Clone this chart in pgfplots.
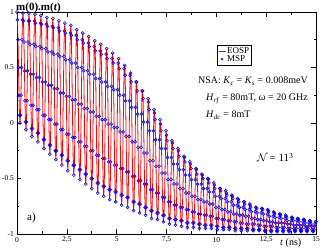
\documentclass[border=0pt]{standalone}
\usepackage{fontspec}
\setmainfont{Liberation Serif}
\usepackage{pgfplots}
\usepackage{pgfplotstable}
\pgfplotsset{compat=1.18}
\pgfplotstableread[row sep=\\]{
t y\\
0 1.00\\ 0.025 0.93\\ 0.05 0.75\\ 0.075 0.50\\ 0.1 0.25\\ 0.125 0.07\\ 0.15 0.00\\ 0.175 0.07\\ 0.2 0.25\\ 0.225 0.50\\ 0.25 0.75\\ 0.275 0.93\\
0.3 0.99\\ 0.325 0.92\\ 0.35 0.73\\ 0.375 0.47\\ 0.4 0.20\\ 0.425 0.01\\ 0.45 -0.06\\ 0.475 0.01\\ 0.5 0.20\\ 0.525 0.47\\ 0.55 0.73\\ 0.575 0.92\\
0.6 0.99\\ 0.625 0.92\\ 0.65 0.71\\ 0.675 0.44\\ 0.7 0.16\\ 0.725 -0.05\\ 0.75 -0.12\\ 0.775 -0.05\\ 0.8 0.16\\ 0.825 0.44\\ 0.85 0.71\\ 0.875 0.92\\
0.9 0.98\\ 0.925 0.90\\ 0.95 0.69\\ 0.975 0.41\\ 1.0 0.12\\ 1.025 -0.09\\ 1.05 -0.17\\ 1.075 -0.09\\ 1.1 0.12\\ 1.125 0.41\\ 1.15 0.69\\ 1.175 0.90\\
1.2 0.97\\ 1.225 0.89\\ 1.25 0.67\\ 1.275 0.37\\ 1.3 0.07\\ 1.325 -0.15\\ 1.35 -0.23\\ 1.375 -0.15\\ 1.4 0.07\\ 1.425 0.37\\ 1.45 0.67\\ 1.475 0.89\\
1.5 0.95\\ 1.525 0.87\\ 1.55 0.64\\ 1.575 0.34\\ 1.6 0.03\\ 1.625 -0.20\\ 1.65 -0.28\\ 1.675 -0.20\\ 1.7 0.03\\ 1.725 0.34\\ 1.75 0.64\\ 1.775 0.87\\
1.8 0.94\\ 1.825 0.86\\ 1.85 0.62\\ 1.875 0.31\\ 1.9 -0.01\\ 1.925 -0.25\\ 1.95 -0.33\\ 1.975 -0.25\\ 2.0 -0.01\\ 2.025 0.31\\ 2.05 0.62\\ 2.075 0.86\\
2.1 0.92\\ 2.125 0.83\\ 2.15 0.60\\ 2.175 0.27\\ 2.2 -0.06\\ 2.225 -0.29\\ 2.25 -0.38\\ 2.275 -0.29\\ 2.3 -0.06\\ 2.325 0.27\\ 2.35 0.60\\ 2.375 0.83\\
2.4 0.90\\ 2.425 0.81\\ 2.45 0.57\\ 2.475 0.24\\ 2.5 -0.10\\ 2.525 -0.34\\ 2.55 -0.43\\ 2.575 -0.34\\ 2.6 -0.10\\ 2.625 0.24\\ 2.65 0.57\\ 2.675 0.81\\
2.7 0.88\\ 2.725 0.79\\ 2.75 0.54\\ 2.775 0.21\\ 2.8 -0.13\\ 2.825 -0.38\\ 2.85 -0.47\\ 2.875 -0.38\\ 2.9 -0.13\\ 2.925 0.21\\ 2.95 0.54\\ 2.975 0.79\\
3.0 0.84\\ 3.025 0.75\\ 3.05 0.50\\ 3.075 0.17\\ 3.1 -0.17\\ 3.125 -0.42\\ 3.15 -0.51\\ 3.175 -0.42\\ 3.2 -0.17\\ 3.225 0.17\\ 3.25 0.50\\ 3.275 0.75\\
3.3 0.81\\ 3.325 0.72\\ 3.35 0.47\\ 3.375 0.13\\ 3.4 -0.21\\ 3.425 -0.46\\ 3.45 -0.55\\ 3.475 -0.46\\ 3.5 -0.21\\ 3.525 0.13\\ 3.55 0.47\\ 3.575 0.72\\
3.6 0.78\\ 3.625 0.69\\ 3.65 0.44\\ 3.675 0.10\\ 3.7 -0.25\\ 3.725 -0.50\\ 3.75 -0.59\\ 3.775 -0.50\\ 3.8 -0.25\\ 3.825 0.10\\ 3.85 0.44\\ 3.875 0.69\\
3.9 0.74\\ 3.925 0.65\\ 3.95 0.40\\ 3.975 0.06\\ 4.0 -0.29\\ 4.025 -0.54\\ 4.05 -0.63\\ 4.075 -0.54\\ 4.1 -0.29\\ 4.125 0.06\\ 4.15 0.40\\ 4.175 0.65\\
4.2 0.71\\ 4.225 0.62\\ 4.25 0.37\\ 4.275 0.03\\ 4.3 -0.32\\ 4.325 -0.57\\ 4.35 -0.66\\ 4.375 -0.57\\ 4.4 -0.32\\ 4.425 0.03\\ 4.45 0.37\\ 4.475 0.62\\
4.5 0.67\\ 4.525 0.58\\ 4.55 0.33\\ 4.575 -0.01\\ 4.6 -0.35\\ 4.625 -0.60\\ 4.65 -0.69\\ 4.675 -0.60\\ 4.7 -0.35\\ 4.725 -0.01\\ 4.75 0.33\\ 4.775 0.58\\
4.8 0.63\\ 4.825 0.54\\ 4.85 0.30\\ 4.875 -0.04\\ 4.9 -0.38\\ 4.925 -0.62\\ 4.95 -0.71\\ 4.975 -0.62\\ 5.0 -0.38\\ 5.025 -0.04\\ 5.05 0.30\\ 5.075 0.54\\
5.1 0.58\\ 5.125 0.49\\ 5.15 0.25\\ 5.175 -0.08\\ 5.2 -0.41\\ 5.225 -0.65\\ 5.25 -0.74\\ 5.275 -0.65\\ 5.3 -0.41\\ 5.325 -0.08\\ 5.35 0.25\\ 5.375 0.49\\
5.4 0.52\\ 5.425 0.43\\ 5.45 0.20\\ 5.475 -0.12\\ 5.5 -0.44\\ 5.525 -0.67\\ 5.55 -0.76\\ 5.575 -0.67\\ 5.6 -0.44\\ 5.625 -0.12\\ 5.65 0.20\\ 5.675 0.43\\
5.7 0.45\\ 5.725 0.37\\ 5.75 0.14\\ 5.775 -0.17\\ 5.8 -0.48\\ 5.825 -0.71\\ 5.85 -0.79\\ 5.875 -0.71\\ 5.9 -0.48\\ 5.925 -0.17\\ 5.95 0.14\\ 5.975 0.37\\
6.0 0.37\\ 6.025 0.29\\ 6.05 0.08\\ 6.075 -0.22\\ 6.1 -0.52\\ 6.125 -0.73\\ 6.15 -0.81\\ 6.175 -0.73\\ 6.2 -0.52\\ 6.225 -0.22\\ 6.25 0.08\\ 6.275 0.29\\
6.3 0.29\\ 6.325 0.22\\ 6.35 0.01\\ 6.375 -0.27\\ 6.4 -0.55\\ 6.425 -0.76\\ 6.45 -0.83\\ 6.475 -0.76\\ 6.5 -0.55\\ 6.525 -0.27\\ 6.55 0.01\\ 6.575 0.22\\
6.6 0.19\\ 6.625 0.12\\ 6.65 -0.07\\ 6.675 -0.34\\ 6.7 -0.60\\ 6.725 -0.79\\ 6.75 -0.86\\ 6.775 -0.79\\ 6.8 -0.60\\ 6.825 -0.34\\ 6.85 -0.07\\ 6.875 0.12\\
6.9 0.09\\ 6.925 0.03\\ 6.95 -0.15\\ 6.975 -0.39\\ 7.0 -0.63\\ 7.025 -0.81\\ 7.05 -0.87\\ 7.075 -0.81\\ 7.1 -0.63\\ 7.125 -0.39\\ 7.15 -0.15\\ 7.175 0.03\\
7.2 -0.01\\ 7.225 -0.07\\ 7.25 -0.23\\ 7.275 -0.45\\ 7.3 -0.67\\ 7.325 -0.83\\ 7.35 -0.89\\ 7.375 -0.83\\ 7.4 -0.67\\ 7.425 -0.45\\ 7.45 -0.23\\ 7.475 -0.07\\
7.5 -0.11\\ 7.525 -0.16\\ 7.55 -0.31\\ 7.575 -0.51\\ 7.6 -0.71\\ 7.625 -0.86\\ 7.65 -0.91\\ 7.675 -0.86\\ 7.7 -0.71\\ 7.725 -0.51\\ 7.75 -0.31\\ 7.775 -0.16\\
7.8 -0.18\\ 7.825 -0.23\\ 7.85 -0.37\\ 7.875 -0.55\\ 7.9 -0.74\\ 7.925 -0.87\\ 7.95 -0.92\\ 7.975 -0.87\\ 8.0 -0.74\\ 8.025 -0.55\\ 8.05 -0.37\\ 8.075 -0.23\\
8.1 -0.25\\ 8.125 -0.30\\ 8.15 -0.42\\ 8.175 -0.59\\ 8.2 -0.76\\ 8.225 -0.88\\ 8.25 -0.93\\ 8.275 -0.88\\ 8.3 -0.76\\ 8.325 -0.59\\ 8.35 -0.42\\ 8.375 -0.30\\
8.4 -0.31\\ 8.425 -0.35\\ 8.45 -0.47\\ 8.475 -0.63\\ 8.5 -0.78\\ 8.525 -0.90\\ 8.55 -0.94\\ 8.575 -0.90\\ 8.6 -0.78\\ 8.625 -0.63\\ 8.65 -0.47\\ 8.675 -0.35\\
8.7 -0.37\\ 8.725 -0.41\\ 8.75 -0.51\\ 8.775 -0.66\\ 8.8 -0.80\\ 8.825 -0.90\\ 8.85 -0.94\\ 8.875 -0.90\\ 8.9 -0.80\\ 8.925 -0.66\\ 8.95 -0.51\\ 8.975 -0.41\\
9.0 -0.42\\ 9.025 -0.46\\ 9.05 -0.55\\ 9.075 -0.69\\ 9.1 -0.82\\ 9.125 -0.91\\ 9.15 -0.95\\ 9.175 -0.91\\ 9.2 -0.82\\ 9.225 -0.69\\ 9.25 -0.55\\ 9.275 -0.46\\
9.3 -0.47\\ 9.325 -0.50\\ 9.35 -0.59\\ 9.375 -0.71\\ 9.4 -0.83\\ 9.425 -0.92\\ 9.45 -0.95\\ 9.475 -0.92\\ 9.5 -0.83\\ 9.525 -0.71\\ 9.55 -0.59\\ 9.575 -0.50\\
9.6 -0.51\\ 9.625 -0.54\\ 9.65 -0.62\\ 9.675 -0.73\\ 9.7 -0.84\\ 9.725 -0.92\\ 9.75 -0.95\\ 9.775 -0.92\\ 9.8 -0.84\\ 9.825 -0.73\\ 9.85 -0.62\\ 9.875 -0.54\\
9.9 -0.56\\ 9.925 -0.59\\ 9.95 -0.66\\ 9.975 -0.76\\ 10.0 -0.86\\ 10.025 -0.93\\ 10.05 -0.96\\ 10.075 -0.93\\ 10.1 -0.86\\ 10.125 -0.76\\ 10.15 -0.66\\ 10.175 -0.59\\
10.2 -0.59\\ 10.225 -0.61\\ 10.25 -0.68\\ 10.275 -0.78\\ 10.3 -0.87\\ 10.325 -0.94\\ 10.35 -0.96\\ 10.375 -0.94\\ 10.4 -0.87\\ 10.425 -0.78\\ 10.45 -0.68\\ 10.475 -0.61\\
10.5 -0.63\\ 10.525 -0.65\\ 10.55 -0.71\\ 10.575 -0.80\\ 10.6 -0.88\\ 10.625 -0.94\\ 10.65 -0.96\\ 10.675 -0.94\\ 10.7 -0.88\\ 10.725 -0.80\\ 10.75 -0.71\\ 10.775 -0.65\\
10.8 -0.66\\ 10.825 -0.68\\ 10.85 -0.74\\ 10.875 -0.82\\ 10.9 -0.89\\ 10.925 -0.95\\ 10.95 -0.97\\ 10.975 -0.95\\ 11.0 -0.89\\ 11.025 -0.82\\ 11.05 -0.74\\ 11.075 -0.68\\
11.1 -0.69\\ 11.125 -0.71\\ 11.15 -0.76\\ 11.175 -0.83\\ 11.2 -0.90\\ 11.225 -0.95\\ 11.25 -0.97\\ 11.275 -0.95\\ 11.3 -0.90\\ 11.325 -0.83\\ 11.35 -0.76\\ 11.375 -0.71\\
11.4 -0.71\\ 11.425 -0.73\\ 11.45 -0.78\\ 11.475 -0.84\\ 11.5 -0.91\\ 11.525 -0.95\\ 11.55 -0.97\\ 11.575 -0.95\\ 11.6 -0.91\\ 11.625 -0.84\\ 11.65 -0.78\\ 11.675 -0.73\\
11.7 -0.74\\ 11.725 -0.76\\ 11.75 -0.80\\ 11.775 -0.86\\ 11.8 -0.91\\ 11.825 -0.96\\ 11.85 -0.97\\ 11.875 -0.96\\ 11.9 -0.91\\ 11.925 -0.86\\ 11.95 -0.80\\ 11.975 -0.76\\
12.0 -0.76\\ 12.025 -0.77\\ 12.05 -0.81\\ 12.075 -0.87\\ 12.1 -0.92\\ 12.125 -0.96\\ 12.15 -0.97\\ 12.175 -0.96\\ 12.2 -0.92\\ 12.225 -0.87\\ 12.25 -0.81\\ 12.275 -0.77\\
12.3 -0.77\\ 12.325 -0.78\\ 12.35 -0.82\\ 12.375 -0.88\\ 12.4 -0.93\\ 12.425 -0.97\\ 12.45 -0.98\\ 12.475 -0.97\\ 12.5 -0.93\\ 12.525 -0.88\\ 12.55 -0.82\\ 12.575 -0.78\\
12.6 -0.79\\ 12.625 -0.80\\ 12.65 -0.84\\ 12.675 -0.89\\ 12.7 -0.93\\ 12.725 -0.97\\ 12.75 -0.98\\ 12.775 -0.97\\ 12.8 -0.93\\ 12.825 -0.89\\ 12.85 -0.84\\ 12.875 -0.80\\
12.9 -0.81\\ 12.925 -0.82\\ 12.95 -0.85\\ 12.975 -0.90\\ 13.0 -0.94\\ 13.025 -0.97\\ 13.05 -0.98\\ 13.075 -0.97\\ 13.1 -0.94\\ 13.125 -0.90\\ 13.15 -0.85\\ 13.175 -0.82\\
13.2 -0.82\\ 13.225 -0.83\\ 13.25 -0.86\\ 13.275 -0.90\\ 13.3 -0.94\\ 13.325 -0.97\\ 13.35 -0.98\\ 13.375 -0.97\\ 13.4 -0.94\\ 13.425 -0.90\\ 13.45 -0.86\\ 13.475 -0.83\\
13.5 -0.84\\ 13.525 -0.85\\ 13.55 -0.88\\ 13.575 -0.91\\ 13.6 -0.95\\ 13.625 -0.97\\ 13.65 -0.98\\ 13.675 -0.97\\ 13.7 -0.95\\ 13.725 -0.91\\ 13.75 -0.88\\ 13.775 -0.85\\
13.8 -0.85\\ 13.825 -0.86\\ 13.85 -0.88\\ 13.875 -0.92\\ 13.9 -0.95\\ 13.925 -0.97\\ 13.95 -0.98\\ 13.975 -0.97\\ 14.0 -0.95\\ 14.025 -0.92\\ 14.05 -0.88\\ 14.075 -0.86\\
14.1 -0.86\\ 14.125 -0.87\\ 14.15 -0.89\\ 14.175 -0.92\\ 14.2 -0.95\\ 14.225 -0.97\\ 14.25 -0.98\\ 14.275 -0.97\\ 14.3 -0.95\\ 14.325 -0.92\\ 14.35 -0.89\\ 14.375 -0.87\\
14.4 -0.87\\ 14.425 -0.88\\ 14.45 -0.90\\ 14.475 -0.93\\ 14.5 -0.95\\ 14.525 -0.97\\ 14.55 -0.98\\ 14.575 -0.97\\ 14.6 -0.95\\ 14.625 -0.93\\ 14.65 -0.90\\ 14.675 -0.88\\
14.7 -0.88\\ 14.725 -0.89\\ 14.75 -0.91\\ 14.775 -0.93\\ 14.8 -0.96\\ 14.825 -0.97\\ 14.85 -0.98\\ 14.875 -0.97\\ 14.9 -0.96\\ 14.925 -0.93\\ 14.95 -0.91\\ 14.975 -0.89\\
15.0 -0.89\\
}\magdata

\begin{document}
\begin{tikzpicture}
\useasboundingbox (-17pt,-15pt) rectangle (305pt,234pt);
\begin{axis}[
  scale only axis, width=299pt, height=222pt,
  xmin=0, xmax=15, ymin=-1, ymax=1,
  clip=false,
  axis line style={line width=0.8pt},
  xtick={0,2.5,5,7.5,10,12.5,15},
  xticklabels={0,{2,5},5,{7,5},10,{12,5},15},
  ytick={-1,-0.5,0,0.5,1},
  yticklabels={-1,-0.5,0,0.5,1},
  minor x tick num=1, minor y tick num=1,
  tick align=inside,
  major tick length=4.5pt, minor tick length=2.5pt,
  every tick/.style={black, line width=0.6pt},
  /pgf/number format/assume math mode=true,
  ticklabel style={font=\fontsize{7.5}{8}\selectfont},
  xticklabel style={yshift=0.5pt},
  yticklabel style={xshift=0.5pt},
  legend style={at={(0.726,0.806)}, anchor=center, draw=black, line width=0.5pt,
    inner sep=1pt, font=\fontsize{9}{9}\selectfont, row sep=-1.5pt,
    nodes={inner sep=1pt}},
  legend cell align=left,
]
\addplot[red, line width=0.8pt, mark=none,
  legend image code/.code={\draw[red, line width=0.9pt] (0pt,0pt) -- (7pt,0pt);}]
  table[x=t, y=y] {\magdata};
\addlegendentry{EOSP}
\addplot[blue, only marks, mark=o, mark size=1.5pt, mark options={line width=0.55pt},
  legend image code/.code={\draw[blue, line width=0.5pt] (3.5pt,0pt) circle (1.1pt);}]
  table[x=t, y=y] {\magdata};
\addlegendentry{MSP}
\end{axis}
\node[anchor=base west, inner sep=0pt, font=\fontsize{11}{12}\selectfont] at (-1pt,223.5pt)
  {\textbf{m(0).m(\textit{t})}};
\node[anchor=base west, inner sep=0pt, font=\fontsize{10}{12}\selectfont] at (263pt,-12pt)
  {\textit{t} (ns)};
\node[anchor=base west, inner sep=0pt, font=\fontsize{10}{12}\selectfont] at (181pt,150pt)
  {NSA: \textit{K}\textsubscript{\textit{c}} = \textit{K}\textsubscript{\textit{s}} = 0.008meV};
\node[anchor=base west, inner sep=0pt, font=\fontsize{10}{12}\selectfont] at (189pt,133pt)
  {\textit{H}\textsubscript{\textit{rf}} = 80mT, \textit{ω} = 20 GHz};
\node[anchor=base west, inner sep=0pt, font=\fontsize{10}{12}\selectfont] at (189pt,116pt)
  {\textit{H}\textsubscript{\textit{dc}} = 8mT};
\node[anchor=base west, inner sep=0pt, font=\fontsize{11}{12}\selectfont] at (240pt,72pt)
  {$\mathcal{N}$\,= 11\textsuperscript{3}};
\node[anchor=base west, inner sep=0pt, font=\fontsize{11}{12}\selectfont] at (10pt,13pt)
  {a)};
\end{tikzpicture}
\end{document}
